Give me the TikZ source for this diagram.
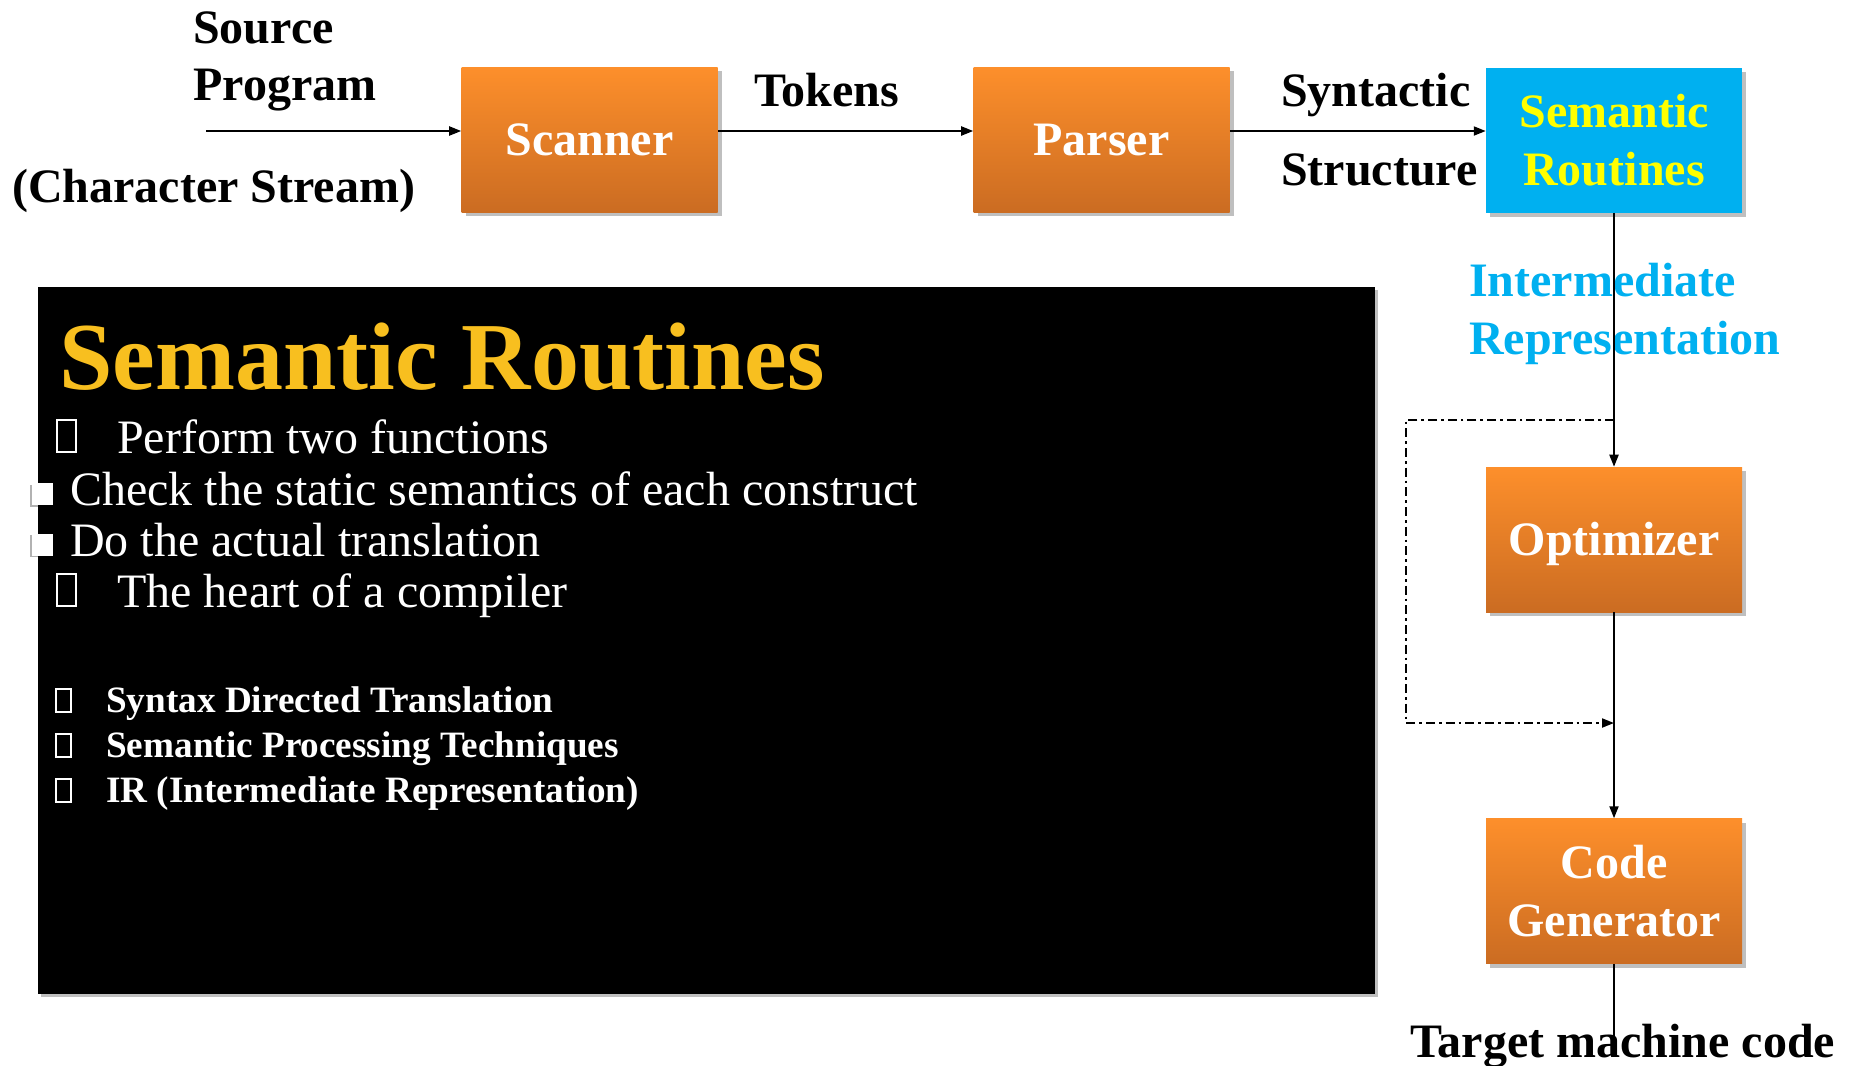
\documentclass[tikz,border=0pt]{standalone}
\usepackage{fontspec}
\setmainfont{Liberation Serif}
\usetikzlibrary{arrows.meta,shadows}

\definecolor{orangetop}{HTML}{FD8F2B}
\definecolor{orangebot}{HTML}{CB6C22}
\definecolor{semblue}{HTML}{00B0F0}
\definecolor{semyellow}{HTML}{FFFF00}
\definecolor{titlegold}{HTML}{F8BF1F}

\begin{document}
\begin{tikzpicture}[x=0.75pt,y=-0.75pt,
  stage/.style={rectangle, minimum width=192pt, minimum height=108.75pt,
    inner sep=0pt, font=\fontsize{36}{43.5}\selectfont\bfseries,
    drop shadow={shadow xshift=3pt, shadow yshift=-3pt, opacity=0.25, fill=black}},
  oneline/.style={text height=24pt, text depth=0pt},
  twoline/.style={align=center},
  orangebox/.style={stage, top color=orangetop, bottom color=orangebot, text=white},
  bluebox/.style={stage, fill=semblue, text=semyellow},
  lbl/.style={anchor=base west, inner sep=0pt, font=\fontsize{36}{43.5}\selectfont\bfseries},
  bigtitle/.style={anchor=base west, inner sep=0pt, text=titlegold, font=\fontsize{72}{80}\selectfont\bfseries},
  item/.style={anchor=base west, inner sep=0pt, text=white, font=\fontsize{36}{43.5}\selectfont},
  subitem/.style={anchor=base west, inner sep=0pt, text=white, font=\fontsize{27.9}{33}\selectfont\bfseries},
  tofu/.style={rectangle, draw=white, line width=1.5pt, inner sep=0pt},
  sqbullet/.style={rectangle, fill=white, inner sep=0pt, minimum width=15.75pt, minimum height=16.5pt,
    drop shadow={shadow xshift=-1.2pt, shadow yshift=-1.2pt, opacity=0.3, fill=black}},
  flow/.style={line width=1.5pt, -{Triangle[length=9pt,width=6.75pt]}},
  plain/.style={line width=1.5pt},
  loopback/.style={line width=1.5pt, dash pattern=on 6.75pt off 3pt on 2pt off 3pt,
    -{Triangle[length=9pt,width=6.75pt]}}
]
\useasboundingbox (0,0) rectangle (1855,1065);
\fill[white] (0,0) rectangle (1855,1065);

% pipeline stages
\node[orangebox, oneline] (scan) at (589.5,139.5) {Scanner};
\node[orangebox, oneline] (pars) at (1101.5,139.5) {Parser};
\node[bluebox, twoline]   (sem)  at (1614,140) {Semantic\\Routines};
\node[orangebox, oneline] (opt)  at (1614,539.5) {Optimizer};
\node[orangebox, twoline] (cg)   at (1614,891) {Code\\Generator};

% labels around the pipeline
\node[lbl] (srcA) at (193,43) {Source};
\node[lbl] (srcB) at (193,100) {Program};
\node[lbl] (srcC) at (12,202) {(Character Stream)};
\node[lbl] (tok) at (754,106) {Tokens};
\node[lbl] (synA) at (1281,106) {Syntactic};
\node[lbl] (synB) at (1281,185) {Structure};
\node[lbl, text=semblue] (irA) at (1469,296) {Intermediate};
\node[lbl, text=semblue] (irB) at (1469,354) {Representation};
\node[lbl] (tgt) at (1410,1057) {Target machine code};

% black summary panel
\node[rectangle, fill=black, inner sep=0pt, minimum width=1002.75pt, minimum height=530.25pt,
  drop shadow={shadow xshift=2.5pt, shadow yshift=-2.5pt, opacity=0.25, fill=black}]
  (panel) at (706.5,640.5) {};
\node[bigtitle] (ttl) at (59,389) {Semantic Routines};

\node[tofu, minimum width=14pt, minimum height=24pt] (tf1) at (66.5,436) {};
\node[item] (it1) at (117,453) {Perform two functions};
\node[sqbullet] (sq1) at (42.5,494) {};
\node[item] (it2) at (70,505) {Check the static semantics of each construct};
\node[sqbullet] (sq2) at (42.5,544.5) {};
\node[item] (it3) at (70,556) {Do the actual translation};
\node[tofu, minimum width=14pt, minimum height=24pt] (tf2) at (66.5,590) {};
\node[item] (it4) at (117,607) {The heart of a compiler};

\node[tofu, minimum width=11.5pt, minimum height=17pt] (tf3) at (63.5,700.5) {};
\node[subitem] (sb1) at (106,712) {Syntax Directed Translation};
\node[tofu, minimum width=11.5pt, minimum height=17pt] (tf4) at (63.5,745.5) {};
\node[subitem] (sb2) at (106,757) {Semantic Processing Techniques};
\node[tofu, minimum width=11.5pt, minimum height=17pt] (tf5) at (63.5,790.5) {};
\node[subitem] (sb3) at (106,802) {IR (Intermediate Representation)};

% connectors
\coordinate (srcin) at (206,131);
\coordinate (irtap) at (1614,420);
\coordinate (irjoin) at (1614,723);
\coordinate (tgtout) at (1614,1037);

\draw[flow] (srcin) -- (scan.west |- srcin);
\draw[flow] (scan.east |- srcin) -- (pars.west |- srcin);
\draw[flow] (pars.east |- srcin) -- (sem.west |- srcin);
\draw[flow] (sem.south) -- (opt.north);
\draw[flow] (opt.south) -- (cg.north);
\draw[plain] (cg.south) -- (tgtout);
\draw[loopback] (irtap) -- (1406,420) -- (1406,723) -- (irjoin);
\end{tikzpicture}
\end{document}
